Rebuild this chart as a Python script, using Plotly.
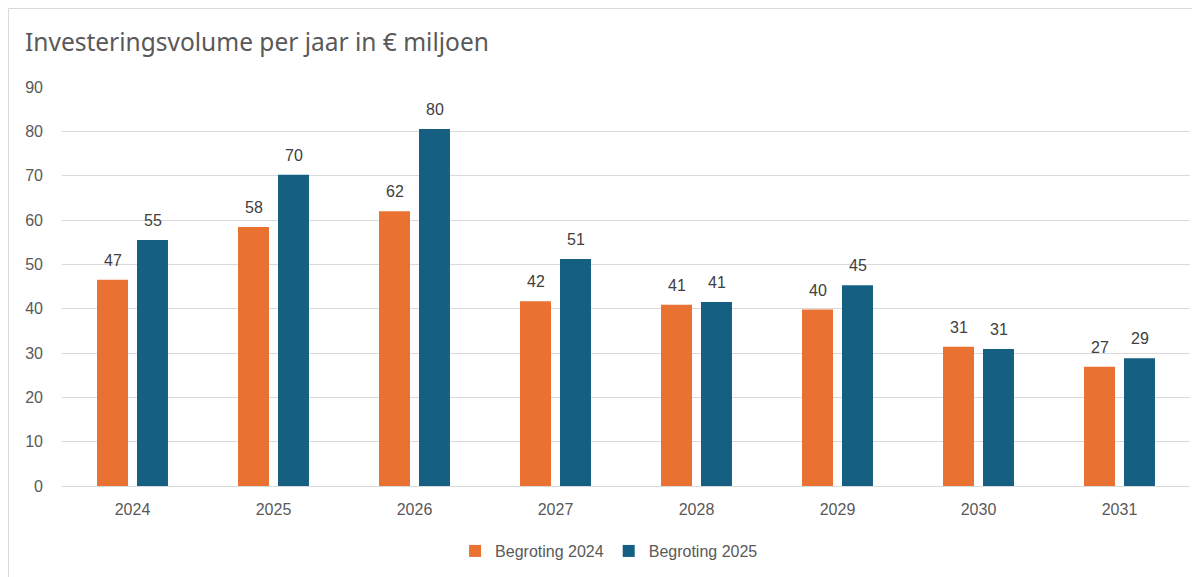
import plotly.graph_objects as go

years = ["2024", "2025", "2026", "2027", "2028", "2029", "2030", "2031"]
begroting_2024 = [46.5, 58.4, 62.0, 41.7, 40.9, 39.8, 31.4, 26.9]
begroting_2025 = [55.5, 70.2, 80.5, 51.2, 41.5, 45.3, 30.9, 28.8]
labels_2024 = ["47", "58", "62", "42", "41", "40", "31", "27"]
labels_2025 = ["55", "70", "80", "51", "41", "45", "31", "29"]
y_ticks = [0, 10, 20, 30, 40, 50, 60, 70, 80, 90]

ORANGE = "#E97132"
BLUE = "#156082"
TEXT = "#595959"
LABEL = "#404040"
FONT = "Liberation Sans, Arial, sans-serif"

# page has an 8px body margin, so figure coords = page coords - 8
L, T = 54, 79
PW, PH = 1128, 399

fig = go.Figure()
fig.add_trace(go.Bar(
    x=years, y=begroting_2024, name="Begroting 2024",
    marker=dict(color=ORANGE, line=dict(width=0)),
    hoverinfo="x+y",
))
fig.add_trace(go.Bar(
    x=years, y=begroting_2025, name="Begroting 2025",
    marker=dict(color=BLUE, line=dict(width=0)),
    hoverinfo="x+y",
))

# data labels above the bars (category index positions on the x axis)
for values, labels, shift in ((begroting_2024, labels_2024, -20),
                              (begroting_2025, labels_2025, 20)):
    for i, (v, lab) in enumerate(zip(values, labels)):
        fig.add_annotation(
            x=i, y=v, text=lab, showarrow=False,
            xanchor="center", yanchor="bottom", xshift=shift, yshift=9,
            font=dict(size=16, color=LABEL, family=FONT),
        )

fig.update_layout(
    width=1200, height=577,
    margin=dict(l=L, r=1200 - L - PW, t=T, b=577 - T - PH),
    paper_bgcolor="white", plot_bgcolor="white",
    barmode="group", bargap=0.433, bargroupgap=0.225,
    title=dict(
        text="Investeringsvolume per jaar in € miljoen",
        xref="container", yref="container",
        x=17/1200, xanchor="left", y=1-34/577, yanchor="middle",
        font=dict(size=24.5, color=TEXT, family="Noto Sans, sans-serif"),
    ),
    font=dict(family=FONT, color=TEXT, size=16),
    legend=dict(
        orientation="h", x=0.485, xanchor="center", y=-0.163, yanchor="middle",
        font=dict(size=16, color=TEXT, family=FONT),
        itemwidth=30, traceorder="normal",
    ),
    showlegend=True,
)

fig.update_xaxes(
    type="category", categoryorder="array", categoryarray=years,
    range=[-0.5, len(years) - 0.5],
    showgrid=False, showline=True, linecolor="#d9d9d9", linewidth=1,
    ticks="", tickfont=dict(size=16, color=TEXT), ticklabelstandoff=9,
)
fig.update_yaxes(
    range=[0, 90], tickvals=y_ticks, showgrid=True, gridcolor="#d9d9d9",
    gridwidth=1, zeroline=False, showline=False, ticks="",
    tickfont=dict(size=16, color=TEXT), ticklabelstandoff=18,
)

# outer chart frame
fig.add_shape(
    type="rect", xref="paper", yref="paper",
    x0=(0.5 - L) / PW, x1=(1230 - L) / PW,
    y0=(T + PH - 620) / PH, y1=(T + PH - 0.5) / PH,
    line=dict(color="#d9d9d9", width=1), fillcolor="rgba(0,0,0,0)", layer="below",
)

fig.write_html("out.html")
